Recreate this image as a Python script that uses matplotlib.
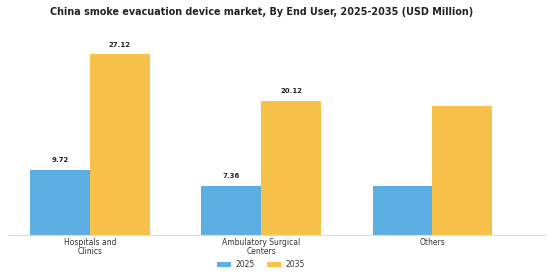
import numpy as np
import matplotlib.pyplot as plt

# Veriler
kategoriler = ['Hospitals and\nClinics', 'Ambulatory Surgical\nCenters', 'Others']
yil_2025 = [9.72, 7.36, 7.3]
yil_2035 = [27.12, 20.12, 19.3]
etiket_2025 = ['9.72', '7.36', '']
etiket_2035 = ['27.12', '20.12', '']

mavi = '#5DAEE3'
sari = '#F8C24A'

fig = plt.figure(figsize=(5.6, 2.8), dpi=100)
ax = fig.add_axes([0.014, 0.161, 0.96, 0.714])

x = np.arange(len(kategoriler))
w = 0.35
b1 = ax.bar(x - w / 2, yil_2025, w, color=mavi, label='2025')
b2 = ax.bar(x + w / 2, yil_2035, w, color=sari, label='2035')

# Çubuk üstü değerler
for bar, t in zip(b1, etiket_2025):
    if t:
        ax.text(bar.get_x() + bar.get_width() / 2, bar.get_height() + 1.0, t,
                ha='center', va='bottom', fontsize=5, fontweight='bold', color='#222222')
for bar, t in zip(b2, etiket_2035):
    if t:
        ax.text(bar.get_x() + bar.get_width() / 2, bar.get_height() + 1.0, t,
                ha='center', va='bottom', fontsize=5, fontweight='bold', color='#222222')

ax.set_xlim(-0.48, 2.66)
ax.set_ylim(0, 30)
ax.set_xticks(x)
ax.set_xticklabels(kategoriler, fontsize=5.5, color='#333333', linespacing=1.0)
ax.tick_params(axis='x', length=0, pad=2)
ax.set_yticks([])
for s in ['top', 'right', 'left']:
    ax.spines[s].set_visible(False)
ax.spines['bottom'].set_color('#dddddd')
ax.spines['bottom'].set_linewidth(0.8)

fig.text(0.467, 0.957, 'China smoke evacuation device market, By End User, 2025-2035 (USD Million)',
         ha='center', va='center', fontsize=6.9, fontweight='bold', color='#222222')

fig.legend(handles=[b1, b2], labels=['2025', '2035'], loc='center', bbox_to_anchor=(0.466, 0.055),
           ncol=2, frameon=False, fontsize=5.5, handlelength=1.8, handleheight=0.6,
           handletextpad=0.6, columnspacing=1.6, labelcolor='#333333')

fig.savefig('out.png', dpi=100)
